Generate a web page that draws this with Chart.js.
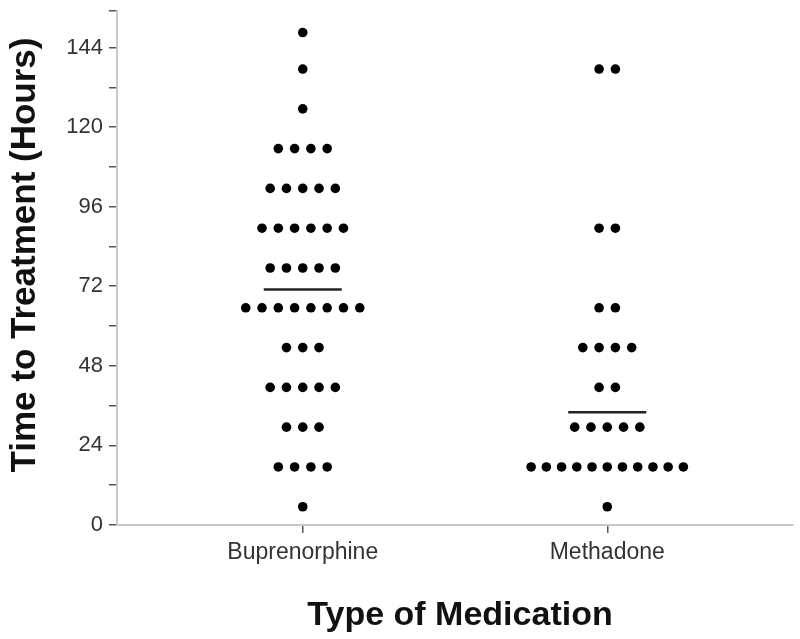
<!DOCTYPE html>
<html>
<head>
<meta charset="utf-8">
<script src="https://cdn.jsdelivr.net/npm/chart.js@4.4.1/dist/chart.umd.min.js"></script>
<style>
html,body{margin:0;padding:0;background:#fff;}
#wrap{width:800px;height:639px;}
</style>
</head>
<body>
<div id="wrap"><canvas id="dotChart" width="800" height="639"></canvas></div>
<script>
const categories = ['Buprenorphine', 'Methadone'];
// one entry per patient, hours (the figure bins them every 12 h)
const buprenorphineHours = [5.5, 17.5,17.5,17.5,17.5, 29.5,29.5,29.5, 41.5,41.5,41.5,41.5,41.5, 53.5,53.5,53.5,
  65.5,65.5,65.5,65.5,65.5,65.5,65.5,65.5, 77.5,77.5,77.5,77.5,77.5, 89.5,89.5,89.5,89.5,89.5,89.5,
  101.5,101.5,101.5,101.5,101.5, 113.5,113.5,113.5,113.5, 125.5, 137.5, 148.5];
const methadoneHours = [5.5, 17.5,17.5,17.5,17.5,17.5,17.5,17.5,17.5,17.5,17.5,17.5, 29.5,29.5,29.5,29.5,29.5,
  41.5,41.5, 53.5,53.5,53.5,53.5, 65.5,65.5, 89.5,89.5, 137.5,137.5];
const meanHours = [71, 34];
const yMajorTicks = [0, 24, 48, 72, 96, 120, 144];
const yMinorTicks = [12, 36, 60, 84, 108, 132, 155];

const FONT = '"Liberation Sans", Arial, sans-serif';
const dotGap = 0.0535, rowMax = 0.5;

// spread equal values side by side around the category centre
function swarm(values, cat){
  const counts = {}, seen = {};
  values.forEach(v => counts[v] = (counts[v] || 0) + 1);
  return values.map(v => {
    const n = counts[v];
    const i = seen[v] = (seen[v] || 0) + 1;
    const gap = n > 1 ? Math.min(dotGap, rowMax / (n - 1)) : 0;
    return {x: cat + (i - 1 - (n - 1) / 2) * gap, y: v};
  });
}

const axisTitles = {
  id: 'axisTitles',
  afterDraw(chart){
    const {ctx, chartArea: a} = chart;
    ctx.save();
    ctx.fillStyle = '#111';
    ctx.textAlign = 'center';
    ctx.textBaseline = 'alphabetic';
    ctx.font = 'bold 34px ' + FONT;
    ctx.fillText('Type of Medication', (a.left + a.right) / 2 + 5, a.bottom + 100);
    ctx.font = 'bold 35px ' + FONT;
    ctx.translate(35, (a.top + a.bottom) / 2 - 13);
    ctx.rotate(-Math.PI / 2);
    ctx.fillText('Time to Treatment (Hours)', 0, 0);
    ctx.restore();
  }
};

const tickGrid = {drawOnChartArea: false, drawTicks: true, tickLength: 8, color: '#555', lineWidth: 1.5};
const axisBorder = {color: '#c8c8c8', width: 2};

new Chart(document.getElementById('dotChart'), {
  type: 'scatter',
  data: {
    datasets: [
      {label: categories[0], data: swarm(buprenorphineHours, 1), backgroundColor: '#000', borderWidth: 0, pointRadius: 4.8},
      {label: categories[1], data: swarm(methadoneHours, 2), backgroundColor: '#000', borderWidth: 0, pointRadius: 4.8},
      {label: 'Mean', data: meanHours.map((m, i) => ({x: i + 1, y: m})), pointStyle: 'line', pointRadius: 39,
        borderColor: '#222', borderWidth: 2.5, backgroundColor: '#222'}
    ]
  },
  options: {
    responsive: false,
    animation: false,
    layout: {autoPadding: false, padding: {left: 0, top: 11, right: 7, bottom: 0}},
    plugins: {legend: {display: false}, tooltip: {enabled: false}},
    scales: {
      x: {
        type: 'linear', min: 0.39, max: 2.61,
        afterBuildTicks: s => { s.ticks = categories.map((c, i) => ({value: i + 1})); },
        afterFit: s => { s.height = 114; s.paddingLeft = 0; s.paddingRight = 0; },
        grid: tickGrid, border: axisBorder,
        ticks: {callback: v => categories[Math.round(v) - 1], font: {family: FONT, size: 23}, color: '#333', padding: 6, maxRotation: 0, autoSkip: false}
      },
      y: {
        type: 'linear', min: 0, max: 155,
        afterBuildTicks: s => { s.ticks = yMajorTicks.concat(yMinorTicks).sort((a, b) => a - b).map(v => ({value: v})); },
        afterFit: s => { s.width = 117; s.paddingTop = 0; s.paddingBottom = 0; },
        grid: tickGrid, border: axisBorder,
        ticks: {callback: v => yMajorTicks.includes(v) ? String(v) : '', font: {family: FONT, size: 22}, color: '#333', padding: 6, autoSkip: false}
      }
    }
  },
  plugins: [axisTitles]
});
</script>
</body>
</html>
